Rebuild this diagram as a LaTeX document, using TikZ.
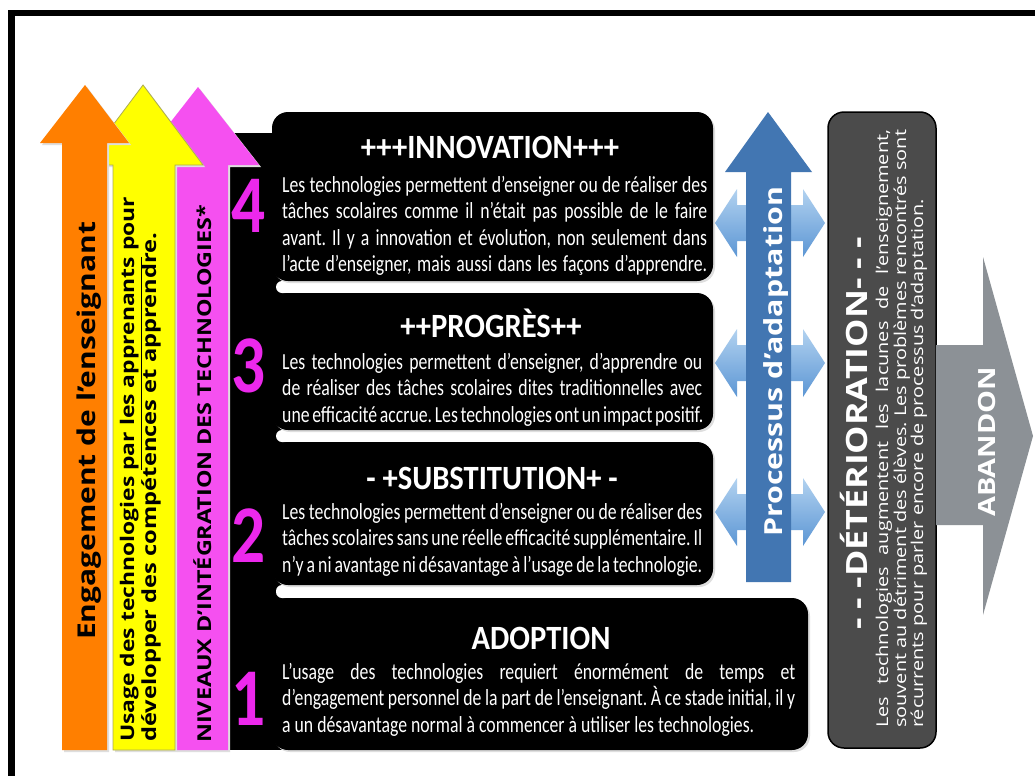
\documentclass[tikz,border=0pt]{standalone}
\usepackage{fontspec}
\setmainfont{Carlito}
\newfontfamily\calc[FakeStretch=0.82]{Carlito}
\newfontfamily\calt[FakeStretch=0.9]{Carlito}
\newfontfamily\calb[FakeStretch=0.77]{Carlito}
\newfontfamily\osans{Open Sans}
\newfontfamily\osw[FakeStretch=1.22]{Open Sans}
\definecolor{cOrange}{RGB}{255,127,0}
\definecolor{cYellow}{RGB}{255,255,0}
\definecolor{cYelEdge}{RGB}{170,170,80}
\definecolor{cMag}{RGB}{245,80,240}
\definecolor{cDigit}{RGB}{236,40,236}
\definecolor{cBlue}{RGB}{66,118,178}
\definecolor{cLBa}{RGB}{178,210,240}
\definecolor{cLBb}{RGB}{92,150,212}
\definecolor{cGrayBox}{RGB}{75,75,75}
\definecolor{cAband}{RGB}{140,145,150}
\newcommand\jl[1]{\makebox[\linewidth][s]{#1}\par}
\newcommand\nl[1]{#1\par}
\newcommand\rotlab[2]{\resizebox{#1}{!}{\scalebox{1}[0.82]{\osans\bfseries #2}}}
\tikzset{
  rot/.style={rotate=90, anchor=base west, inner sep=0pt},
  boxtitle/.style={anchor=base, inner sep=0pt, text=white, font=\calt\bfseries\fontsize{34}{40}\selectfont},
  boxbody/.style={anchor=base west, inner sep=0pt, text=white, font=\calb\fontsize{23}{26.5}\selectfont},
  digit/.style={anchor=base, inner sep=0pt, text=cDigit, font=\calc\bfseries\fontsize{82}{90}\selectfont},
  detbody/.style={rot, text=white, font=\osw\fontsize{16.3}{19}\selectfont},
  blackbox/.style={fill=black, rounded corners=16},
  gapbar/.style={fill=white, rounded corners=6},
  shadow/.style={fill=black!13}
}
\frenchspacing
\begin{document}
\frenchspacing
\begin{tikzpicture}[x=1pt,y=-1pt]
\useasboundingbox (0,0) rectangle (1035,776);
\fill[white] (0,0) rectangle (1035,776);
% frame
\fill[black] (8,10) rectangle (15,776);
\fill[black] (8,10) rectangle (1035,16);
% black column and boxes
\fill[black] (228,133) rectangle (300,750);
\fill[gapbar] (276,281) rectangle (716,293);
\fill[gapbar] (276,430) rectangle (716,442);
\fill[gapbar] (276,585) rectangle (716,598);
\fill[shadow, rounded corners=16] (274,114) rectangle (715,283);
\fill[shadow, rounded corners=16] (274,295) rectangle (715,432);
\fill[shadow, rounded corners=16] (274,444) rectangle (715,587);
\fill[shadow, rounded corners=16] (274,600) rectangle (810,752);
\fill[blackbox] (272,112) rectangle (713,281);
\fill[blackbox] (272,293) rectangle (713,430);
\fill[blackbox] (272,442) rectangle (713,585);
\fill[blackbox] (272,598) rectangle (808,750);
% left arrows
\fill[shadow] (177,752) -- (177,167) -- (139,167) -- (200,89) -- (261,167) -- (230,167) -- (230,752) -- cycle;
\fill[cMag] (175,750) -- (175,165) -- (137,165) -- (198,87) -- (259,165) -- (228,165) -- (228,750) -- cycle;
\fill[shadow] (115,752) -- (115,167) -- (85,167) -- (145,87) -- (205,167) -- (177,167) -- (177,752) -- cycle;
\filldraw[fill=cYellow, draw=cYelEdge, line width=0.8] (113,750) -- (113,165) -- (83,165) -- (143,85) -- (203,165) -- (175,165) -- (175,750) -- cycle;
\fill[shadow] (64,752) -- (64,145) -- (42,145) -- (87,87) -- (131,145) -- (109,145) -- (109,752) -- cycle;
\fill[cOrange] (62,750) -- (62,143) -- (40,143) -- (85,85) -- (129,143) -- (107,143) -- (107,750) -- cycle;
% left labels
\node[rot] (eng) at (95,640) {\rotlab{418pt}{Engagement de l’enseignant}};
\node[rot] (usa) at (134,742) {\rotlab{545pt}{Usage des technologies \underline{par les apprenants} pour}};
\node[rot] (dev) at (156,742) {\rotlab{509pt}{développer des compétences et apprendre.}};
\node[rot] (niv) at (211,743) {\rotlab{538pt}{NIVEAUX D’INTÉGRATION DES TECHNOLOGIES*}};
% digits
\node[digit] (n4) at (249,232) {4};
\node[digit] (n3) at (249,392) {3};
\node[digit] (n2) at (249,562) {2};
\node[digit] (n1) at (249,725) {1};
% box texts
\node[boxtitle] (t4) at (490,158) {+++INNOVATION+++};
\node[boxbody] (b4) at (282,192) {\parbox[t]{425pt}{%
\jl{Les technologies permettent d’enseigner ou de réaliser des}%
\jl{tâches scolaires comme il n’était pas possible de le faire}%
\jl{avant. Il y a innovation et évolution, non seulement dans}%
\jl{l’acte d’enseigner, mais aussi dans les façons d’apprendre.}}};
\node[boxtitle] (t3) at (491,337) {++PROGRÈS++};
\node[boxbody] (b3) at (282,369) {\parbox[t]{420pt}{%
\jl{Les technologies permettent d’enseigner, d’apprendre ou}%
\jl{de réaliser des tâches scolaires dites traditionnelles avec}%
\jl{une efficacité accrue. Les technologies ont un impact positif.}}};
\node[boxtitle] (t2) at (492,489) {- +SUBSTITUTION+ -};
\node[boxbody] (b2) at (282,519) {\parbox[t]{420pt}{%
\jl{Les technologies permettent d’enseigner ou de réaliser des}%
\jl{tâches scolaires sans une réelle efficacité supplémentaire. Il}%
\jl{n’y a ni avantage ni désavantage à l’usage de la technologie.}}};
\node[boxtitle] (t1) at (541,649) {ADOPTION};
\node[boxbody] (b1) at (282,679) {\parbox[t]{513pt}{%
\jl{L’usage des technologies requiert énormément de temps et}%
\jl{d’engagement personnel de la part de l’enseignant. À ce stade initial, il y}%
\nl{a un désavantage normal à commencer à utiliser les technologies.}}};
% adaptation arrows
\foreach \cy in {223,363,512}{
  \shade[top color=cLBa, bottom color=cLBb]
    (715,\cy) -- (737,\cy-34) -- (737,\cy-18) -- (803,\cy-18) -- (803,\cy-34) -- (825,\cy)
    -- (803,\cy+34) -- (803,\cy+18) -- (737,\cy+18) -- (737,\cy+34) -- cycle;
}
\fill[cBlue] (746,582) -- (746,172) -- (725,172) -- (768,112) -- (812,172) -- (791,172) -- (791,582) -- cycle;
\node[rot, text=white] (proc) at (782,537) {\rotlab{350pt}{Processus d’adaptation}};
% deterioration
\filldraw[fill=cGrayBox, draw=black, line width=1.5, rounded corners=16] (828,112) rectangle (936,748);
\node[rot, text=white] (dett) at (867,630) {\rotlab{393pt}{- - -DÉTÉRIORATION- - -}};
\node[detbody] (d1) at (888,728) {\makebox[598pt][s]{Les technologies augmentent les lacunes de l’enseignement,}};
\node[detbody] (d2) at (906,728) {\makebox[598pt][s]{souvent au détriment des élèves. Les problèmes rencontrés sont}};
\node[detbody] (d3) at (923,728) {récurrents pour parler encore de processus d’adaptation.};
% abandon
\fill[cAband] (936,345) -- (983,345) -- (983,257) -- (1033,436) -- (983,615) -- (983,525) -- (936,525) -- cycle;
\node[rot, text=white] (aband) at (995,517) {\rotlab{150pt}{ABANDON}};
\end{tikzpicture}
\end{document}
